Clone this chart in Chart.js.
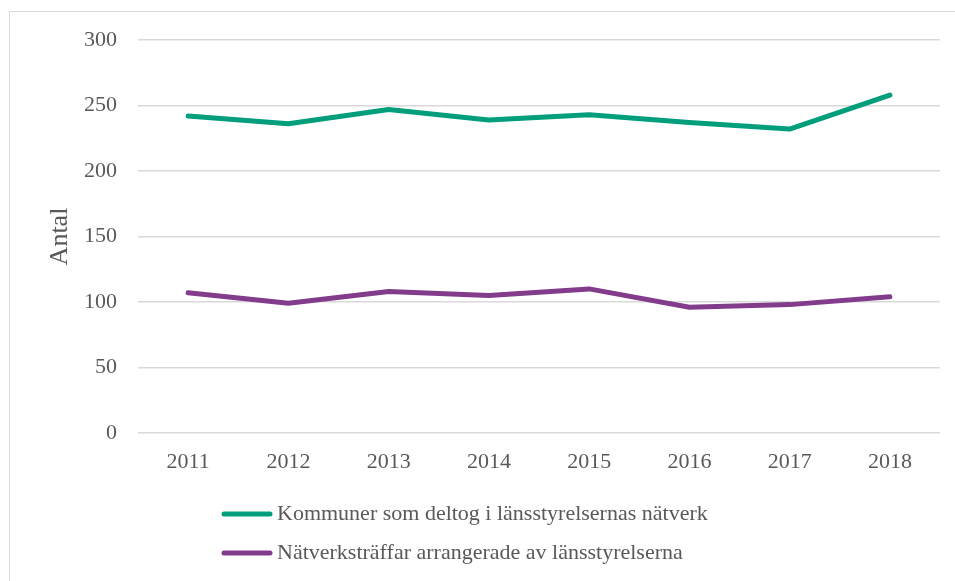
<!DOCTYPE html>
<html>
<head>
<meta charset="utf-8">
<script src="https://cdn.jsdelivr.net/npm/chart.js@4"></script>
<style>
  html, body { margin: 0; padding: 0; background: #fff; overflow: hidden; }
  #wrap { position: relative; width: 955px; height: 581px; overflow: hidden; }
  #frame { position: absolute; left: 9px; top: 11px; width: 1000px; height: 700px; border: 1px solid #d9d9d9; box-sizing: border-box; }
  canvas { position: absolute; left: 0; top: 0; }
</style>
</head>
<body>
<div id="wrap">
  <div id="frame"></div>
  <canvas id="c" width="955" height="581"></canvas>
</div>
<script>
const years = ['2011', '2012', '2013', '2014', '2015', '2016', '2017', '2018'];
const kommuner = [242, 236, 247, 239, 243, 237, 232, 258];
const traffar = [107, 99, 108, 105, 110, 96, 98, 104];
const seriesNames = ['Kommuner som deltog i länsstyrelsernas nätverk', 'Nätverksträffar arrangerade av länsstyrelserna'];
const yTicks = [0, 50, 100, 150, 200, 250, 300];

const FONT = "'Liberation Serif', 'Times New Roman', serif";
const TXT = '#595959';

const legendPlugin = {
  id: 'stackedLegend',
  afterDraw(chart) {
    const ctx = chart.ctx;
    ctx.save();
    chart.data.datasets.forEach((ds, i) => {
      const y = 514 + i * 39;
      ctx.strokeStyle = ds.borderColor;
      ctx.lineWidth = 5;
      ctx.lineCap = 'round';
      ctx.beginPath();
      ctx.moveTo(224, y);
      ctx.lineTo(270, y);
      ctx.stroke();
      ctx.fillStyle = TXT;
      ctx.font = '22px ' + FONT;
      ctx.textBaseline = 'middle';
      ctx.textAlign = 'left';
      ctx.fillText(ds.label, 277, y);
    });
    ctx.restore();
  }
};

new Chart(document.getElementById('c'), {
  type: 'line',
  data: {
    labels: years,
    datasets: [
      { label: seriesNames[0], data: kommuner, borderColor: '#009E7B', backgroundColor: '#009E7B', borderWidth: 5, pointRadius: 0, borderCapStyle: 'round', borderJoinStyle: 'round', tension: 0 },
      { label: seriesNames[1], data: traffar, borderColor: '#833C8C', backgroundColor: '#833C8C', borderWidth: 5, pointRadius: 0, borderCapStyle: 'round', borderJoinStyle: 'round', tension: 0 }
    ]
  },
  options: {
    responsive: false,
    animation: false,
    devicePixelRatio: 1,
    layout: { padding: { left: 0, top: 40, right: 15, bottom: 110 } },
    plugins: { legend: { display: false }, tooltip: { enabled: false } },
    scales: {
      x: {
        offset: true,
        grid: { display: false },
        border: { display: false },
        ticks: { font: { family: FONT, size: 22 }, color: TXT, padding: 8, maxRotation: 0 },
        afterFit(s) { s.height = 38; }
      },
      y: {
        min: 0, max: 300,
        afterBuildTicks(s) { s.ticks = yTicks.map(v => ({ value: v })); },
        grid: { color: '#d9d9d9', lineWidth: 1.5, drawTicks: false },
        border: { display: false },
        ticks: { font: { family: FONT, size: 22 }, color: TXT, padding: 21 },
        title: { display: true, text: 'Antal', font: { family: FONT, size: 26 }, color: TXT, padding: { top: 45, bottom: 0 } },
        afterFit(s) { s.width = 138; }
      }
    }
  },
  plugins: [legendPlugin]
});
</script>
</body>
</html>
